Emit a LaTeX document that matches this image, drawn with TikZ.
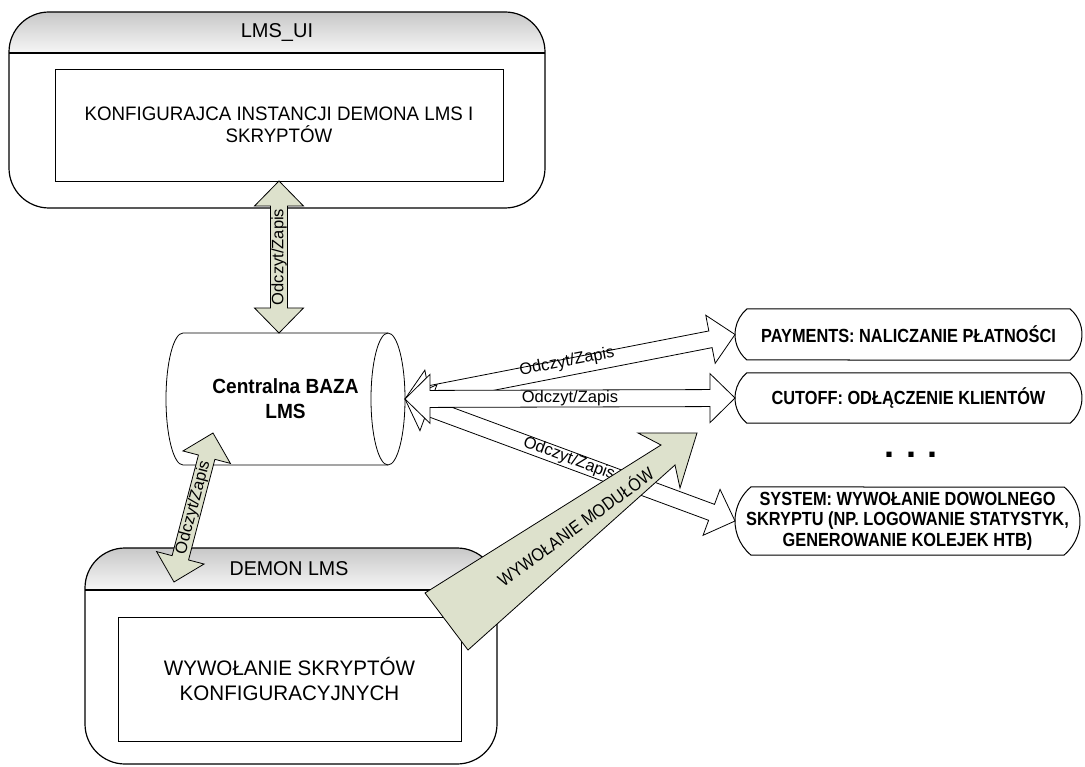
\documentclass[tikz,border=0pt]{standalone}
\usepackage{fontspec}
\setmainfont{Liberation Sans}
\newfontfamily\cndbox[FakeStretch=0.96]{Liberation Sans}
\newfontfamily\cndmod[FakeStretch=0.86]{Liberation Sans}
\newfontfamily\cnddb[FakeStretch=0.93]{Liberation Sans}
\newfontfamily\cndcall[FakeStretch=0.88]{Liberation Sans}
\newfontfamily\cnddemon[FakeStretch=0.98]{Liberation Sans}
\usetikzlibrary{calc,shapes.misc}

\definecolor{sage}{RGB}{221,225,204}
\definecolor{headtop}{RGB}{200,200,200}
\definecolor{headbot}{RGB}{246,246,246}
\newcommand\fsz[2]{\fontsize{#1}{#2}\selectfont}

% double-headed block arrow between two named coordinates
\newcommand\twoway[3]{%
  \coordinate (ha) at ($(#2)!25pt!(#3)$);
  \coordinate (hb) at ($(#3)!25pt!(#2)$);
  \draw[#1] (#2) -- ($(ha)!24.5pt!90:(#3)$) -- ($(ha)!8.5pt!90:(#3)$)
    -- ($(hb)!8.5pt!-90:(#2)$) -- ($(hb)!24.5pt!-90:(#2)$) -- (#3)
    -- ($(hb)!24.5pt!90:(#2)$) -- ($(hb)!8.5pt!90:(#2)$)
    -- ($(ha)!8.5pt!-90:(#3)$) -- ($(ha)!24.5pt!-90:(#3)$) -- cycle;}

% header band of a container node: shaded strip of the given height
\newcommand\headband[2]{%
  \begin{scope}
    \clip[rounded corners=40pt] (#1.north west) rectangle (#1.south east);
    \shade[top color=headtop, bottom color=headbot]
      (#1.north west) rectangle ([yshift=-#2]#1.north east);
  \end{scope}
  \draw[line width=1.2pt] ([yshift=-#2]#1.north west) -- ([yshift=-#2]#1.north east);
  \draw[line width=1.2pt, rounded corners=40pt] (#1.north west) rectangle (#1.south east);}

\tikzset{
  every node/.style={inner sep=0pt, outer sep=0pt},
  frame/.style={fill=white, rounded corners=40pt},
  inbox/.style={draw, line width=0.8pt, fill=white, align=center},
  titletext/.style={font=\fsz{20}{24}},
  flow/.style={draw, line width=0.8pt, fill=white, line join=miter},
  rwflow/.style={draw, line width=0.8pt, fill=sage, line join=miter},
  arrlabel/.style={font=\fsz{16.5}{18}},
  module/.style={draw, line width=1pt, rounded rectangle,
    rounded rectangle arc length=100, fill=white, align=center,
    font=\cndmod\bfseries\fsz{19}{20.5}},
}

\begin{document}
\begin{tikzpicture}[x=1pt,y=-1pt]
\useasboundingbox (0,0) rectangle (1085,767);

% --- LMS_UI container ---
\node[frame, minimum width=536pt, minimum height=196pt] (ui) at (277,110) {};
\headband{ui}{41pt}
\node[titletext] (uititle) at (277,32.5) {LMS\_UI};
\node[inbox, minimum width=448pt, minimum height=112pt, font=\cndbox\fsz{19.5}{22.5}]
  (uicfg) at (279,125) {KONFIGURAJCA INSTANCJI DEMONA LMS I\\SKRYPTÓW};

% --- DEMON LMS container ---
\node[frame, minimum width=412pt, minimum height=216pt] (demon) at (291,656) {};
\headband{demon}{42pt}
\node[titletext, font=\cnddemon\fsz{20}{24}] (demontitle) at (289,569) {DEMON LMS};
\node[inbox, minimum width=343pt, minimum height=124pt, font=\cnddemon\fsz{21}{25.5}]
  (demoncall) at (289.5,679) {WYWOŁANIE SKRYPTÓW\\KONFIGURACYJNYCH};

% --- central database (horizontal cylinder) ---
\draw[line width=0.8pt, fill=white] (183,333) -- (388,333)
  arc[start angle=-90, end angle=90, x radius=17, y radius=66] -- (183,465)
  arc[start angle=90, end angle=270, x radius=17, y radius=66] -- cycle;
\draw[line width=0.8pt] (388,465) arc[start angle=90, end angle=270, x radius=17, y radius=66];
\node[minimum width=239pt, minimum height=132pt, align=center,
  font=\cnddb\bfseries\fsz{20.5}{25}] (db) at (285.5,399) {Centralna BAZA\\LMS};

% --- modules ---
\node[module, minimum width=347pt, minimum height=51pt] (pay) at (908.5,334.5)
  {PAYMENTS: NALICZANIE PŁATNOŚCI};
\node[module, minimum width=347pt, minimum height=50pt] (cut) at (908.5,398)
  {CUTOFF: ODŁĄCZENIE KLIENTÓW};
\node[font=\bfseries\fsz{36}{40}] (more) at (911,455) {.\,\,.\,\,.};
\node[module, minimum width=345pt, minimum height=68pt] (sys) at (907.5,521)
  {SYSTEM: WYWOŁANIE DOWOLNEGO\\SKRYPTU (NP. LOGOWANIE STATYSTYK,\\GENEROWANIE KOLEJEK HTB)};

% --- read/write flows between database and modules ---
\coordinate (hub) at (db.east);
\twoway{flow}{hub}{pay.west}
\twoway{flow}{hub}{sys.west}
\twoway{flow}{hub}{cut.west}
\node[arrlabel, rotate=11] (l1) at (567,362) {Odczyt/Zapis};
\node[arrlabel] (l2) at (570,398.5) {Odczyt/Zapis};
\node[arrlabel, rotate=-20.3] (l3) at (569,459) {Odczyt/Zapis};

% --- read/write flows of UI and daemon ---
\coordinate (vtop) at (uicfg.south);
\coordinate (vbot) at (uicfg.south |- db.north);
\twoway{rwflow}{vtop}{vbot}
\node[arrlabel, rotate=90] (lv) at (279,257) {Odczyt/Zapis};

\coordinate (dtop) at (213,433);
\coordinate (dbot) at (174,582);
\twoway{rwflow}{dtop}{dbot}
\node[arrlabel, rotate=75.3] (ld) at (193.5,507.5) {Odczyt/Zapis};

% --- module invocation arrow ---
\coordinate (mt1) at (425,593);
\coordinate (mt2) at (468,650);
\coordinate (mj1) at (661,445);
\coordinate (mb1) at (638,433);
\coordinate (mtip) at (697,433);
\coordinate (mb2) at (680,488);
\coordinate (mj2) at (675,465);
\draw[rwflow] (mt1) -- (mj1) -- (mb1) -- (mtip) -- (mb2) -- (mj2) -- (mt2) -- cycle;
\node[arrlabel, font=\cndcall\fsz{18}{20}, rotate=36] (lm) at (575,526) {WYWOŁANIE MODUŁÓW};

\end{tikzpicture}
\end{document}
